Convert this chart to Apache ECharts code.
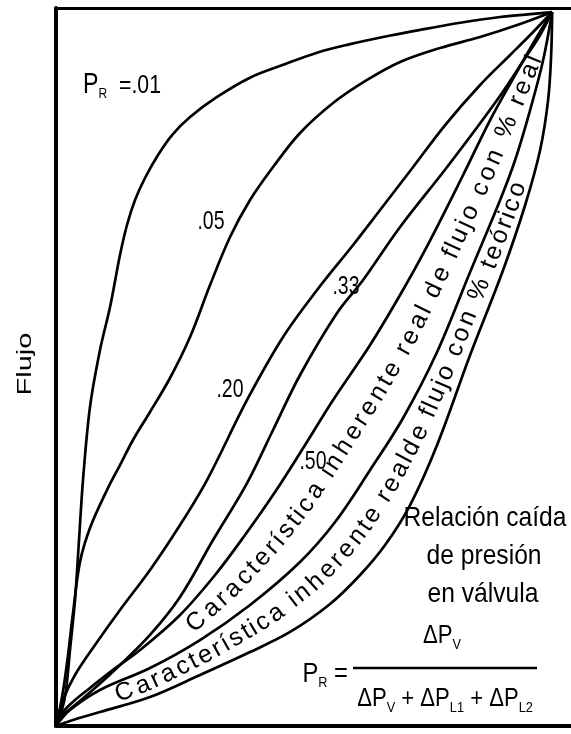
<!DOCTYPE html>
<html><head><meta charset="utf-8">
<script src="https://cdn.jsdelivr.net/npm/echarts@6.0.0/dist/echarts.min.js"></script>
<style>html,body{margin:0;padding:0;background:#fff}#c{width:571px;height:734px}</style>
</head><body><div id="c"></div>
<script>
// ---- data (x = valve opening %, y = flow %) ----
const curveNames = ['.01', '.05', '.20', '.33', '.50', 'real', 'teórico'];
const curve01 = [[0,0],[1.21,2.24],[2.02,5.04],[2.82,10.64],[3.83,17.65],[4.64,26.05],[5.44,34.45],[6.85,44.68],[8.87,52.66],[10.89,58.68],[12.90,65.97],[14.31,70.17],[15.93,73.67],[17.94,76.75],[20.56,79.97],[23.39,82.77],[27.02,85.29],[32.46,88.10],[39.1,90.8],[45.8,92.6],[52.6,94.3],[59.3,95.5],[65.9,96.5],[73.4,97.5],[81.5,98.5],[89.5,99.3],[95.6,99.7],[100,100]];
const curve05 = [[0,0],[0.81,2.52],[1.61,5.74],[2.42,9.94],[3.43,15.83],[4.84,22.97],[6.85,27.73],[10.28,33.05],[12.90,36.55],[15.52,40.06],[18.95,43.98],[22.98,48.74],[27.02,54.48],[31.05,61.76],[35.08,68.49],[39.11,73.67],[43.75,78.29],[49.19,83.05],[55.85,87.25],[62.70,90.48],[69.35,93.00],[77.42,94.96],[85.48,96.50],[93.55,98.32],[100,100]];
const curve20 = [[0,0],[1.41,3.64],[3.83,7.14],[7.86,11.34],[12.90,16.25],[18.95,21.85],[25.0,28.15],[30.44,34.45],[38.51,45.66],[45.77,54.48],[52.62,61.06],[59.88,67.37],[65.32,72.27],[71.98,78.29],[78.43,84.17],[85.48,89.78],[91.53,93.98],[95.97,97.06],[100,100]];
const curve33 = [[0,0],[1.21,1.40],[3.83,2.94],[7.86,5.32],[12.90,8.54],[18.95,12.75],[25.0,18.07],[31.65,26.05],[38.51,34.03],[43.75,41.46],[49.19,49.16],[56.65,57.84],[61.90,62.46],[69.35,69.89],[78.83,78.29],[88.91,87.68],[94.56,93.56],[97.58,96.78],[100,100]];
const curve50 = [[0,0],[1.41,1.96],[3.83,3.64],[6.85,5.32],[10.89,7.56],[16.94,10.64],[25.0,15.55],[32.06,21.15],[38.10,26.75],[44.15,32.77],[50.20,39.36],[55.85,45.66],[63.31,53.36],[69.35,60.36],[74.40,66.67],[82.06,77.17],[87.50,84.87],[92.54,91.18],[96.57,96.08],[100,100]];
const curveReal = [[0,0],[2.82,2.24],[8.87,5.04],[18.95,8.12],[29.03,12.04],[39.11,16.95],[49.19,22.97],[56.25,28.57],[63.31,35.85],[69.96,43.14],[76.81,52.38],[83.47,63.59],[89.52,73.67],[92.54,79.27],[95.56,86.27],[98.19,93.28],[100,100]];
const curveTeorico = [[0,0],[2.82,0.70],[8.87,1.96],[18.95,4.06],[29.03,7.14],[39.11,10.36],[47.18,13.17],[55.24,17.09],[61.29,21.15],[66.33,25.35],[71.37,30.95],[76.81,39.36],[83.47,51.96],[90.12,63.87],[94.56,72.97],[97.58,80.67],[99.19,87.68],[99.80,93.98],[100,100]];

const bandText1 = 'Característica inherente real de flujo con % real';
const bandText2 = 'Característica inherente realde flujo con % teórico';
const axisName = 'Flujo';

const FONT = '"Liberation Sans", Arial, Helvetica, sans-serif';
const curves = [curve01, curve05, curve20, curve33, curve50, curveReal, curveTeorico];

const chart = echarts.init(document.getElementById('c'), null, {renderer: 'canvas'});
const hiddenAxis = {axisTick: {show: false}, axisLabel: {show: false}, splitLine: {show: false}};
chart.setOption({
  animation: false,
  backgroundColor: '#fff',
  grid: {left: 56, right: 0, top: 8, bottom: 8},
  xAxis: [
    Object.assign({type: 'value', min: 0, max: 103.8, position: 'bottom',
      axisLine: {show: true, onZero: false, lineStyle: {color: '#000', width: 4}}}, hiddenAxis),
    Object.assign({type: 'value', min: 0, max: 103.8, position: 'top',
      axisLine: {show: true, onZero: false, lineStyle: {color: '#000', width: 3}}}, hiddenAxis)
  ],
  yAxis: Object.assign({type: 'value', min: 0, max: 100.56,
    axisLine: {show: true, onZero: false, lineStyle: {color: '#000', width: 4}}}, hiddenAxis),
  series: curves.map((d, i) => ({
    type: 'line', name: curveNames[i], data: d, showSymbol: false, smooth: 0.35,
    silent: true, lineStyle: {color: '#000', width: 2.7}
  }))
});

// ---- helpers for text running between two curves ----
function toPx(c) { return c.map(p => chart.convertToPixel({xAxisIndex: 0, yAxisIndex: 0}, p)); }
function resample(poly, n) {
  const cum = [0];
  for (let i = 1; i < poly.length; i++) cum.push(cum[i-1] + Math.hypot(poly[i][0]-poly[i-1][0], poly[i][1]-poly[i-1][1]));
  const L = cum[cum.length-1], out = [];
  let j = 0;
  for (let k = 0; k <= n; k++) {
    const s = L * k / n;
    while (j < poly.length - 2 && cum[j+1] < s) j++;
    const t = (s - cum[j]) / ((cum[j+1] - cum[j]) || 1);
    out.push([poly[j][0] + (poly[j+1][0]-poly[j][0])*t, poly[j][1] + (poly[j+1][1]-poly[j][1])*t]);
  }
  return out;
}
function midline(a, b) {
  const ra = resample(a, 600), rb = resample(b, 600);
  return ra.map((p, i) => [(p[0]+rb[i][0])/2, (p[1]+rb[i][1])/2]);
}
function nearestIdx(line, pt) {
  let best = 0, bd = 1e9;
  line.forEach((p, i) => { const d = Math.hypot(p[0]-pt[0], p[1]-pt[1]); if (d < bd) { bd = d; best = i; } });
  return best;
}
function textAlong(str, line, startPt, endPt, size, offset) {
  const i0 = nearestIdx(line, startPt), i1 = nearestIdx(line, endPt);
  const path = line.slice(i0, i1 + 1);
  const cum = [0];
  for (let i = 1; i < path.length; i++) cum.push(cum[i-1] + Math.hypot(path[i][0]-path[i-1][0], path[i][1]-path[i-1][1]));
  const L = cum[cum.length-1];
  const at = s => {
    s = Math.max(0, Math.min(L, s));
    let j = 0; while (j < path.length - 2 && cum[j+1] < s) j++;
    const t = (s - cum[j]) / ((cum[j+1]-cum[j]) || 1);
    return [path[j][0] + (path[j+1][0]-path[j][0])*t, path[j][1] + (path[j+1][1]-path[j][1])*t];
  };
  const ctx = document.createElement('canvas').getContext('2d');
  ctx.font = size + 'px ' + FONT;
  const chars = [...str];
  const w = chars.map(ch => ctx.measureText(ch).width);
  const tot = w.reduce((a, b) => a + b, 0);
  const k = L / tot;
  const els = [];
  let s = 0;
  chars.forEach((ch, i) => {
    const m = s + w[i]*k/2; s += w[i]*k;
    if (ch === ' ') return;
    const p = at(m), pa = at(m - 10), pb = at(m + 10);
    const ang = Math.atan2(-(pb[1]-pa[1]), pb[0]-pa[0]);
    const nx = -Math.sin(ang), ny = -Math.cos(ang);
    els.push({type: 'text', x: p[0] + nx*offset, y: p[1] + ny*offset, rotation: ang, silent: true,
      style: {text: ch, fill: '#000', font: size + 'px ' + FONT, align: 'center', verticalAlign: 'middle'}});
  });
  return els;
}

const px = curves.map(toPx);
const mid1 = midline(px[4], px[5]);
const mid2 = midline(px[5], px[6]);

function label(text, x, y, size, sx, align) {
  return {type: 'text', x: x, y: y, scaleX: sx || 1, silent: true,
    style: {text: text, fill: '#000', font: size + 'px ' + FONT, align: align || 'center', verticalAlign: 'middle'}};
}
const sub = {fontSize: 15, fontFamily: FONT, padding: [17, 0, 0, 0]};
const graphic = [
  // y-axis title
  {type: 'text', x: 25, y: 364, rotation: Math.PI/2, scaleX: 1.45, silent: true,
    style: {text: axisName, fill: '#000', font: '20px ' + FONT, align: 'center', verticalAlign: 'middle'}},
  // curve labels
  {type: 'text', x: 83, y: 85, scaleX: 0.8, silent: true,
    style: {text: '{p|P}{s|R}', fill: '#000', align: 'left', verticalAlign: 'middle',
      rich: {p: {fontSize: 29, fontFamily: FONT}, s: sub}}},
  label('=.01', 119, 86, 25, 0.85, 'left'),
  label('.05', 211, 222, 26, 0.75),
  label('.20', 230, 390, 26, 0.75),
  label('.33', 346, 287, 26, 0.75),
  label('.50', 313, 462, 26, 0.75),
  // pressure ratio note
  label('Relación caída', 485, 518, 28, 0.88),
  label('de presión', 484, 556, 28, 0.88),
  label('en válvula', 483, 594, 28, 0.88),
  {type: 'text', x: 442, y: 636, scaleX: 0.85, silent: true,
    style: {text: '{d|ΔP}{s|V}', fill: '#000', align: 'center', verticalAlign: 'middle',
      rich: {d: {fontSize: 26, fontFamily: FONT}, s: sub}}},
  {type: 'line', silent: true, shape: {x1: 353, y1: 668, x2: 537, y2: 668}, style: {stroke: '#000', lineWidth: 2.5}},
  {type: 'text', x: 445, y: 699, scaleX: 0.85, silent: true,
    style: {text: '{d|ΔP}{s|V}{d| + ΔP}{s|L1}{d| + ΔP}{s|L2}', fill: '#000', align: 'center', verticalAlign: 'middle',
      rich: {d: {fontSize: 26, fontFamily: FONT}, s: sub}}},
  {type: 'text', x: 348, y: 674, scaleX: 0.85, silent: true,
    style: {text: '{d|P}{s|R}{d| =}', fill: '#000', align: 'right', verticalAlign: 'middle',
      rich: {d: {fontSize: 28, fontFamily: FONT}, s: sub}}}
].concat(
  textAlong(bandText1, mid1, [190, 632], [545, 60], 25, 0),
  textAlong(bandText2, mid2, [116, 703], [530, 185], 25, 0)
);
chart.setOption({graphic: graphic});
</script>
</body></html>
